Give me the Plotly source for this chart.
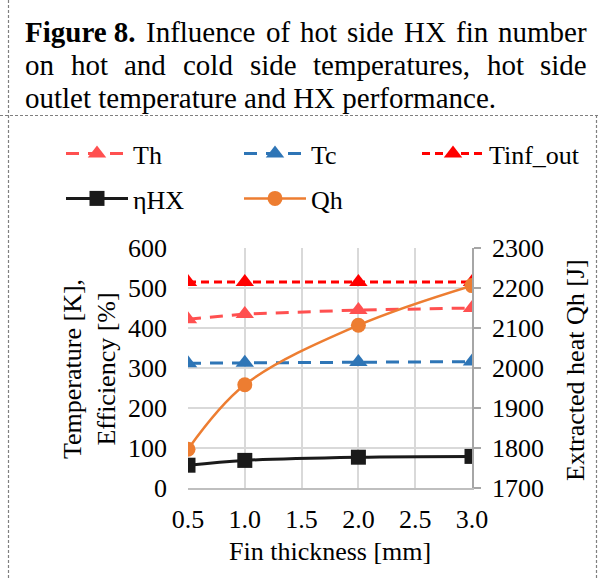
import plotly.graph_objects as go

# ---- data ----
fin_thickness = [0.5, 1.0, 2.0, 3.0]
Th = [422, 435, 445, 450]
Tc = [312, 313, 315, 316]
Tinf_out = [515, 515, 515, 515]
eta_HX = [57, 69, 77, 79]
Qh = [1797, 1958, 2107, 2206]

x_ticks = [0.5, 1.0, 1.5, 2.0, 2.5, 3.0]
y_ticks = [0, 100, 200, 300, 400, 500, 600]
y2_ticks = [1700, 1800, 1900, 2000, 2100, 2200, 2300]

caption_line1 = ["<b>Figure 8.</b>", "Influence", "of", "hot", "side", "HX", "fin", "number"]
caption_line2 = ["on", "hot", "and", "cold", "side", "temperatures,", "hot", "side"]
caption_line3 = "outlet temperature and HX performance."

W, H = 599, 579
ML, MR, MT, MB = 188, 127, 248, 91
PW, PH = W - ML - MR, H - MT - MB
FONT = "Liberation Serif"


def px(x):
    return (x - ML) / PW


def py(y):
    return (H - MB - y) / PH


fig = go.Figure()
fig.add_trace(go.Scatter(x=fin_thickness, y=Th, name="Th", mode="lines+markers",
                         line=dict(color="#ff5050", width=3, dash="13px,9px"),
                         marker=dict(symbol="triangle-up", size=16, color="#ff5050"),
                         legend="legend"))
fig.add_trace(go.Scatter(x=fin_thickness, y=Tc, name="Tc", mode="lines+markers",
                         line=dict(color="#2e75b6", width=3, dash="13px,9px"),
                         marker=dict(symbol="triangle-up", size=16, color="#2e75b6"),
                         legend="legend2"))
fig.add_trace(go.Scatter(x=fin_thickness, y=Tinf_out, name="Tinf_out", mode="lines+markers",
                         line=dict(color="#ff0000", width=3, dash="8px,5px"),
                         marker=dict(symbol="triangle-up", size=16, color="#ff0000"),
                         legend="legend3"))
fig.add_trace(go.Scatter(x=fin_thickness, y=eta_HX, name="ηHX", mode="lines+markers",
                         line=dict(color="#1a1a1a", width=3, shape="spline"),
                         marker=dict(symbol="square", size=15, color="#1a1a1a"),
                         legend="legend4"))
fig.add_trace(go.Scatter(x=fin_thickness, y=Qh, name="Qh", mode="lines+markers",
                         line=dict(color="#ed7d31", width=2.5, shape="spline"),
                         marker=dict(symbol="circle", size=15, color="#ed7d31"),
                         yaxis="y2", legend="legend5"))

axis_font = dict(family=FONT, size=26, color="black")


def leg(x, y):
    return dict(orientation="h", xref="container", yref="container",
                x=x / W, y=1 - y / H, xanchor="left", yanchor="top",
                itemwidth=62, font=dict(family=FONT, size=26, color="black"),
                bgcolor="rgba(0,0,0,0)")


fig.update_layout(
    width=W, height=H,
    margin=dict(l=ML, r=MR, t=MT, b=MB, autoexpand=False),
    paper_bgcolor="white", plot_bgcolor="white",
    font=dict(family=FONT, size=26, color="black"),
    xaxis=dict(range=[0.5, 3.0], tickvals=x_ticks, ticktext=[f"{v:.1f}" for v in x_ticks],
               showgrid=True, gridcolor="#d9d9d9", gridwidth=1.5,
               showline=True, linecolor="#bfbfbf", linewidth=1.5,
               zeroline=False, ticks="", ticklabelstandoff=7, tickfont=axis_font),
    yaxis=dict(range=[0, 600], tickvals=y_ticks,
               showgrid=True, gridcolor="#d9d9d9", gridwidth=1.5,
               showline=False, zeroline=False, ticks="", ticklabelstandoff=20,
               tickfont=axis_font),
    yaxis2=dict(range=[1700, 2300], tickvals=y2_ticks, overlaying="y", side="right",
                showgrid=False, zeroline=False, showline=True, linecolor="#a6a6a6",
                linewidth=1.5, ticks="outside", ticklen=7, tickcolor="#a6a6a6",
                tickwidth=1.5, ticklabelstandoff=6, tickfont=axis_font),
    legend=leg(61, 130),
    legend2=leg(239, 130),
    legend3=leg(417, 130),
    legend4=leg(61, 175),
    legend5=leg(239, 175),
    showlegend=True,
)

# axis titles
fig.add_annotation(x=px(330), y=py(551), xref="paper", yref="paper",
                   text="Fin thickness [mm]", showarrow=False,
                   font=axis_font, xanchor="center", yanchor="middle")
fig.add_annotation(x=px(89), y=py(369), xref="paper", yref="paper",
                   text="Temperature [K],<br>Efficiency [%]", showarrow=False,
                   textangle=-90, font=axis_font, xanchor="center", yanchor="middle")
fig.add_annotation(x=px(575), y=py(370), xref="paper", yref="paper",
                   text="Extracted heat Qh [J]", showarrow=False,
                   textangle=-90, font=axis_font, xanchor="center", yanchor="middle")

# caption (justified lines placed word by word)
title_font = dict(family=FONT, size=29, color="black")
line1_x = [23, 144.3, 263.9, 298.2, 345.4, 402.2, 454.2, 496.4]
line2_x = [23, 68.7, 122.4, 181.0, 247.6, 310.9, 484.6, 538.3]
for word, xw in zip(caption_line1, line1_x):
    fig.add_annotation(x=px(xw), y=py(32), xref="paper", yref="paper", text=word,
                       showarrow=False, font=title_font, xanchor="left", yanchor="middle")
for word, xw in zip(caption_line2, line2_x):
    fig.add_annotation(x=px(xw), y=py(65), xref="paper", yref="paper", text=word,
                       showarrow=False, font=title_font, xanchor="left", yanchor="middle")
fig.add_annotation(x=px(23), y=py(98), xref="paper", yref="paper", text=caption_line3,
                   showarrow=False, font=title_font, xanchor="left", yanchor="middle")

# dashed frame lines
border = dict(color="#7f7f7f", width=1.2, dash="3px,2px")
fig.add_shape(type="line", xref="paper", yref="paper", x0=px(8.5), x1=px(8.5),
              y0=py(0), y1=py(H), line=border)
fig.add_shape(type="line", xref="paper", yref="paper", x0=px(596.5), x1=px(596.5),
              y0=py(115), y1=py(H), line=border)
fig.add_shape(type="line", xref="paper", yref="paper", x0=px(0), x1=px(W),
              y0=py(115.5), y1=py(115.5), line=border)

fig.write_html("out.html")
